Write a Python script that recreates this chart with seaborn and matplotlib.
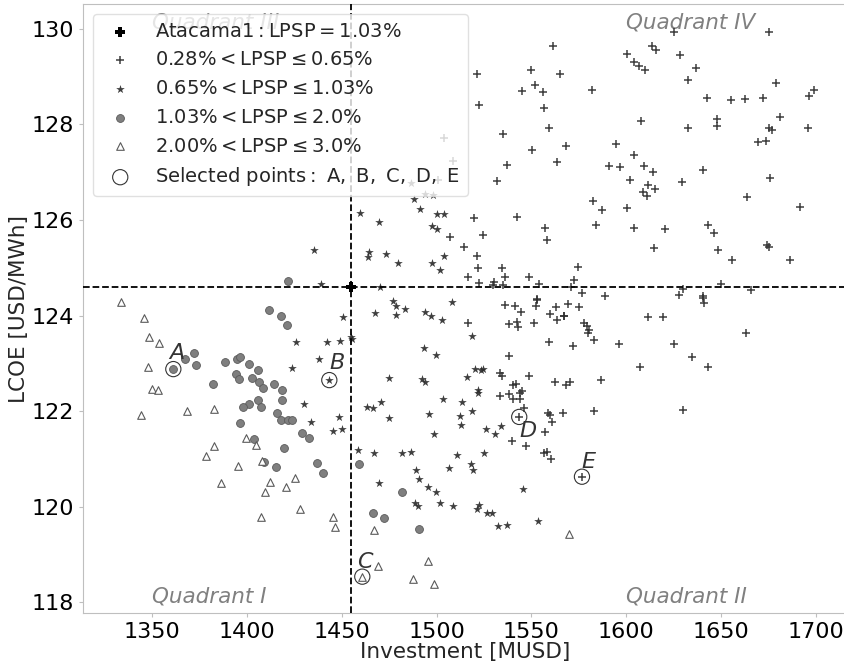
import matplotlib
matplotlib.use("Agg")
import matplotlib.pyplot as plt
import seaborn as sns
import numpy as np
import pandas as pd

# ---------------- data ----------------
atacama_x = [1455.0]
atacama_y = [124.6]

# 0.28% < LPSP <= 0.65%  (plus markers)
plus_x = [1561.4, 1521.1, 1549.8, 1564.9, 1544.9, 1552.1, 1556.3, 1522.5, 1556.8, 1582.1,
          1559.1, 1535.0, 1550.5, 1568.4, 1563.5, 1537.0, 1532.0, 1594.6, 1604.1, 1590.8,
          1596.8, 1602.0, 1582.5, 1587.4, 1600.6, 1584.1, 1604.1, 1557.0, 1558.1, 1542.3,
          1519.6, 1524.3, 1506.9, 1514.6, 1521.1, 1521.7, 1534.3, 1574.6, 1516.4, 1522.6,
          1530.4, 1529.9, 1536.1, 1535.2, 1548.6, 1554.0, 1572.6, 1570.9, 1576.7, 1588.8,
          1553.1, 1504.1, 1508.5, 1500.7,
          1625.3, 1675.5, 1600.3, 1613.8, 1615.6, 1628.4, 1604.1, 1606.8, 1610.1, 1636.9,
          1632.6, 1678.9, 1642.8, 1655.3, 1662.7, 1672.2, 1696.3, 1699.3, 1608.0, 1632.8,
          1647.8, 1647.8, 1681.2, 1675.5, 1676.8, 1696.1, 1669.6, 1673.8, 1609.6, 1614.3,
          1640.7, 1629.5, 1611.4, 1609.1, 1615.4, 1611.0, 1675.9, 1663.9, 1691.9, 1620.5,
          1643.2, 1646.2, 1614.7, 1648.5, 1674.5, 1675.4, 1656.0, 1686.5, 1650.0, 1630.2,
          1665.9, 1627.9, 1640.5,
          1569.5, 1575.3, 1567.2, 1577.9, 1579.2, 1580.6, 1580.0, 1583.0, 1572.1, 1596.4,
          1611.5, 1619.3, 1640.4, 1641.1, 1663.2, 1625.1, 1634.6, 1643.2, 1607.3, 1586.9,
          1583.2, 1630.2,
          1536.1, 1541.4, 1544.5, 1552.8, 1552.6, 1559.8, 1563.0, 1563.5, 1567.4, 1516.4,
          1538.2, 1542.3, 1543.1, 1551.4, 1559.5, 1538.4, 1533.5, 1534.3, 1548.9, 1562.5,
          1568.1, 1570.4, 1540.5, 1541.7, 1544.9, 1544.0, 1538.4, 1540.2, 1544.0, 1533.5,
          1546.3, 1558.9, 1559.8, 1561.0, 1566.8, 1557.2, 1540.0, 1547.0, 1556.8, 1558.4,
          1560.2, 1543.6, 1576.7]
plus_y = [129.63, 129.05, 129.14, 129.05, 128.70, 128.82, 128.67, 128.41, 128.34, 128.72,
          127.92, 127.79, 127.46, 127.54, 127.21, 127.14, 126.82, 127.59, 127.35, 127.12,
          127.10, 126.83, 126.40, 126.21, 126.24, 125.89, 125.84, 125.82, 125.57, 126.07,
          126.04, 125.69, 125.65, 125.43, 125.25, 124.99, 124.99, 125.01, 124.80, 124.69,
          124.71, 124.64, 124.81, 124.64, 124.81, 124.66, 124.74, 124.60, 124.47, 124.40,
          124.35, 127.72, 127.23, 126.83,
          129.93, 129.93, 129.47, 129.63, 129.56, 129.44, 129.31, 129.21, 129.13, 129.17,
          128.93, 128.86, 128.55, 128.51, 128.53, 128.54, 128.60, 128.71, 128.06, 127.93,
          128.11, 127.97, 128.16, 127.93, 127.88, 127.92, 127.62, 127.65, 127.13, 127.00,
          127.05, 126.80, 126.72, 126.59, 126.64, 126.50, 126.87, 126.47, 126.27, 125.80,
          125.90, 125.72, 125.41, 125.37, 125.48, 125.44, 125.17, 125.17, 124.65, 124.55,
          124.54, 124.42, 124.40,
          124.24, 124.17, 123.98, 123.84, 123.78, 123.70, 123.63, 123.49, 123.36, 123.41,
          123.96, 123.97, 124.36, 124.26, 123.63, 123.41, 123.14, 122.93, 122.93, 122.65,
          122.00, 122.03,
          124.22, 124.19, 124.08, 124.33, 124.19, 124.03, 124.17, 123.91, 123.99, 123.84,
          123.82, 123.87, 123.77, 123.84, 123.45, 123.15, 122.79, 122.74, 122.74, 122.62,
          122.55, 122.62, 122.55, 122.56, 122.42, 122.37, 122.35, 122.26, 122.26, 122.32,
          122.06, 121.96, 121.92, 121.78, 121.96, 121.56, 121.38, 121.27, 121.12, 121.15,
          121.01, 121.88, 120.63]

# 0.65% < LPSP <= 1.03%  (star markers)
star_x = [1439.0, 1450.5, 1455.0, 1455.5, 1425.8, 1442.3, 1449.0, 1437.8, 1423.7, 1430.2,
          1433.9, 1448.5, 1445.2, 1450.1, 1470.1, 1476.8, 1478.7, 1467.7, 1478.6, 1475.0,
          1463.1, 1466.3, 1470.8, 1475.0, 1458.7, 1467.0, 1469.4,
          1435.3, 1459.7, 1469.4, 1464.3, 1464.0, 1473.3, 1479.8, 1486.6, 1488.1, 1493.9,
          1498.3, 1491.1, 1500.0, 1503.9, 1497.7, 1500.2, 1497.4, 1501.8, 1504.1,
          1508.0, 1502.7, 1518.8, 1520.1, 1523.6, 1524.6, 1516.0, 1522.0, 1522.0, 1503.5,
          1513.2, 1518.5, 1512.3, 1512.8, 1526.2, 1530.8, 1534.0, 1483.3, 1493.9, 1496.9,
          1493.3, 1499.5, 1492.1, 1493.9, 1496.1, 1498.6, 1481.7, 1486.5, 1510.8, 1525.2,
          1489.0, 1490.7, 1495.3, 1499.7, 1506.7, 1518.1, 1519.2, 1488.4, 1490.2, 1502.0,
          1508.5, 1521.1, 1522.5, 1526.4, 1529.4, 1532.5, 1537.0, 1545.6, 1553.5, 1443.4]
star_y = [124.65, 123.96, 123.55, 123.51, 123.45, 123.45, 123.47, 123.09, 122.91, 122.14,
          121.78, 121.87, 121.59, 121.62, 124.59, 124.31, 124.20, 124.05, 124.01, 122.70,
          122.08, 122.06, 122.19, 121.86, 121.18, 121.13, 120.49,
          125.37, 126.14, 125.96, 125.32, 125.23, 125.29, 125.09, 126.78, 126.43, 126.54,
          126.52, 126.22, 126.13, 126.13, 125.88, 125.81, 125.09, 124.95, 125.25,
          124.28, 123.91, 123.57, 122.88, 122.86, 122.88, 122.71, 122.44, 122.37, 122.26,
          122.19, 122.01, 121.89, 121.71, 121.63, 121.52, 121.68, 124.13, 124.08, 123.99,
          123.33, 123.17, 122.68, 122.62, 121.94, 121.52, 121.12, 121.15, 121.08, 121.13,
          120.76, 120.58, 120.42, 120.31, 120.82, 120.90, 120.76, 120.07, 120.02, 120.09,
          120.02, 119.95, 120.03, 119.88, 119.88, 119.60, 119.62, 120.37, 119.71, 122.65]

# 1.03% < LPSP <= 2.0%  (circle markers)
circ_x = [1421.8, 1411.4, 1417.9, 1421.2, 1372.2, 1367.1, 1373.1, 1388.4, 1394.5, 1396.1,
          1401.2, 1405.9, 1394.2, 1395.9, 1402.8, 1406.5, 1408.6, 1382.2, 1414.1, 1418.6,
          1418.3, 1405.9, 1401.0, 1398.0, 1407.5, 1415.6, 1417.9, 1421.4, 1423.5, 1396.1,
          1429.0, 1432.7, 1403.7, 1419.3, 1408.9, 1415.3, 1436.7, 1440.2, 1459.2, 1466.3,
          1472.2, 1481.9, 1490.5, 1361.1]
circ_y = [124.73, 124.12, 123.98, 123.81, 123.21, 123.09, 122.97, 123.03, 123.09, 123.13,
          122.98, 122.86, 122.77, 122.67, 122.69, 122.62, 122.49, 122.56, 122.56, 122.44,
          122.23, 122.23, 122.15, 122.09, 122.09, 121.96, 121.82, 121.82, 121.82, 121.75,
          121.55, 121.43, 121.42, 121.22, 120.94, 120.84, 120.92, 120.70, 120.90, 119.88,
          119.77, 120.32, 119.54, 122.88]

# 2.00% < LPSP <= 3.0%  (triangle markers)
tri_x = [1333.3, 1345.6, 1348.3, 1353.7, 1347.9, 1349.7, 1353.2, 1344.2, 1368.5, 1382.7,
         1382.7, 1378.3, 1395.4, 1386.1, 1399.4, 1404.7, 1407.7, 1412.1, 1409.5, 1420.4,
         1425.4, 1428.1, 1407.5, 1445.5, 1446.4, 1467.0, 1469.2, 1495.5, 1487.4, 1498.5,
         1569.9, 1460.8]
tri_y = [124.29, 123.94, 123.56, 123.43, 122.93, 122.46, 122.44, 121.93, 122.00, 122.05,
         121.27, 121.06, 120.85, 120.50, 121.44, 121.30, 120.96, 120.52, 120.31, 120.41,
         120.60, 119.95, 119.79, 119.78, 119.58, 119.51, 118.77, 118.87, 118.49, 118.39,
         119.43, 118.54]

# selected points
sel_names = ["A", "B", "C", "D", "E"]
sel_x = [1361.1, 1443.4, 1460.8, 1543.6, 1576.7]
sel_y = [122.88, 122.65, 118.54, 121.88, 120.63]
sel_label_dx = [-2.7, -0.3, -3.0, 0.0, -0.7]
sel_label_dy = [0.21, 0.23, 0.19, -0.41, 0.19]

quad_names = ["Quadrant I", "Quadrant II", "Quadrant III", "Quadrant IV"]
quad_x = [1350, 1600, 1350, 1600]
quad_y = [118, 118, 130, 130]

labels = [r"$\mathrm{Atacama1: LPSP = 1.03\%}$",
          r"$\mathrm{0.28\% < LPSP \leq 0.65\%}$",
          r"$\mathrm{0.65\% < LPSP \leq 1.03\%}$",
          r"$\mathrm{1.03\% < LPSP \leq 2.0\%}$",
          r"$\mathrm{2.00\% < LPSP \leq 3.0\%}$",
          r"$\mathrm{Selected\ points:\ A,\ B,\ C,\ D,\ E}$"]

# ---------------- plot ----------------
sns.set_style("white", {"axes.edgecolor": "0.75", "xtick.bottom": True, "ytick.left": True,
                        "xtick.color": "0.75", "ytick.color": "0.75"})
plt.rcParams["font.family"] = ["DejaVu Sans"]
plt.rcParams["mathtext.fontset"] = "dejavusans"

fig = plt.figure(figsize=(8.45, 6.66), dpi=100)
ax = fig.add_axes([83.3 / 845, 53 / 666, (847.5 - 83.3) / 845, (613 - 4.2) / 666])

dark = "#2a2a2a"
sns.scatterplot(x=plus_x, y=plus_y, marker="+", color=dark, s=30, linewidth=1.1,
                alpha=0.9, ax=ax, label=labels[1], zorder=3)
sns.scatterplot(x=star_x, y=star_y, marker="*", color=dark, s=42, linewidth=0,
                alpha=0.9, ax=ax, label=labels[2], zorder=3)
sns.scatterplot(x=circ_x, y=circ_y, marker="o", color="#7f7f7f", edgecolor="#5a5a5a",
                s=32, linewidth=0.6, ax=ax, label=labels[3], zorder=3)
sns.scatterplot(x=tri_x, y=tri_y, marker="^", facecolor="white", edgecolor="#5a5a5a",
                s=30, linewidth=0.8, ax=ax, label=labels[4], zorder=3)
sns.scatterplot(x=sel_x, y=sel_y, marker="o", facecolor="none", edgecolor="#333333",
                s=120, linewidth=0.8, ax=ax, label=labels[5], zorder=4)
sns.scatterplot(x=atacama_x, y=atacama_y, marker="P", color="black", s=45, linewidth=0,
                ax=ax, label=labels[0], zorder=6)

ax.axhline(atacama_y[0], ls="--", color="black", lw=1.3, zorder=5)
ax.axvline(atacama_x[0], ls="--", color="black", lw=1.3, zorder=5)

for n, x, y, dx, dy in zip(sel_names, sel_x, sel_y, sel_label_dx, sel_label_dy):
    ax.text(x + dx, y + dy, "$" + n + "$", fontsize=16, color="#333333",
            ha="left", va="baseline", zorder=7)

for n, x, y in zip(quad_names, quad_x, quad_y):
    ax.text(x, y, n, fontsize=15.5, color="#808080", style="italic",
            ha="left", va="baseline", zorder=2)

ax.set_xlim(1313.6, 1716.8)
ax.set_ylim(117.78, 130.51)
ax.set_xticks([1350, 1400, 1450, 1500, 1550, 1600, 1650, 1700])
ax.set_yticks([118, 120, 122, 124, 126, 128, 130])
ax.tick_params(axis="both", labelsize=16, labelcolor="black", length=3, width=0.8)
ax.set_xlabel("Investment [MUSD]", fontsize=15.5, labelpad=0)
ax.set_ylabel("LCOE [USD/MWh]", fontsize=15.5, labelpad=2)

h, l = ax.get_legend_handles_labels()
order = [l.index(lab) for lab in labels]
ax.legend([h[i] for i in order], [l[i] for i in order], loc="upper left",
          fontsize=14, frameon=True, framealpha=0.8, edgecolor="0.85")

fig.savefig("out.png", dpi=100)
